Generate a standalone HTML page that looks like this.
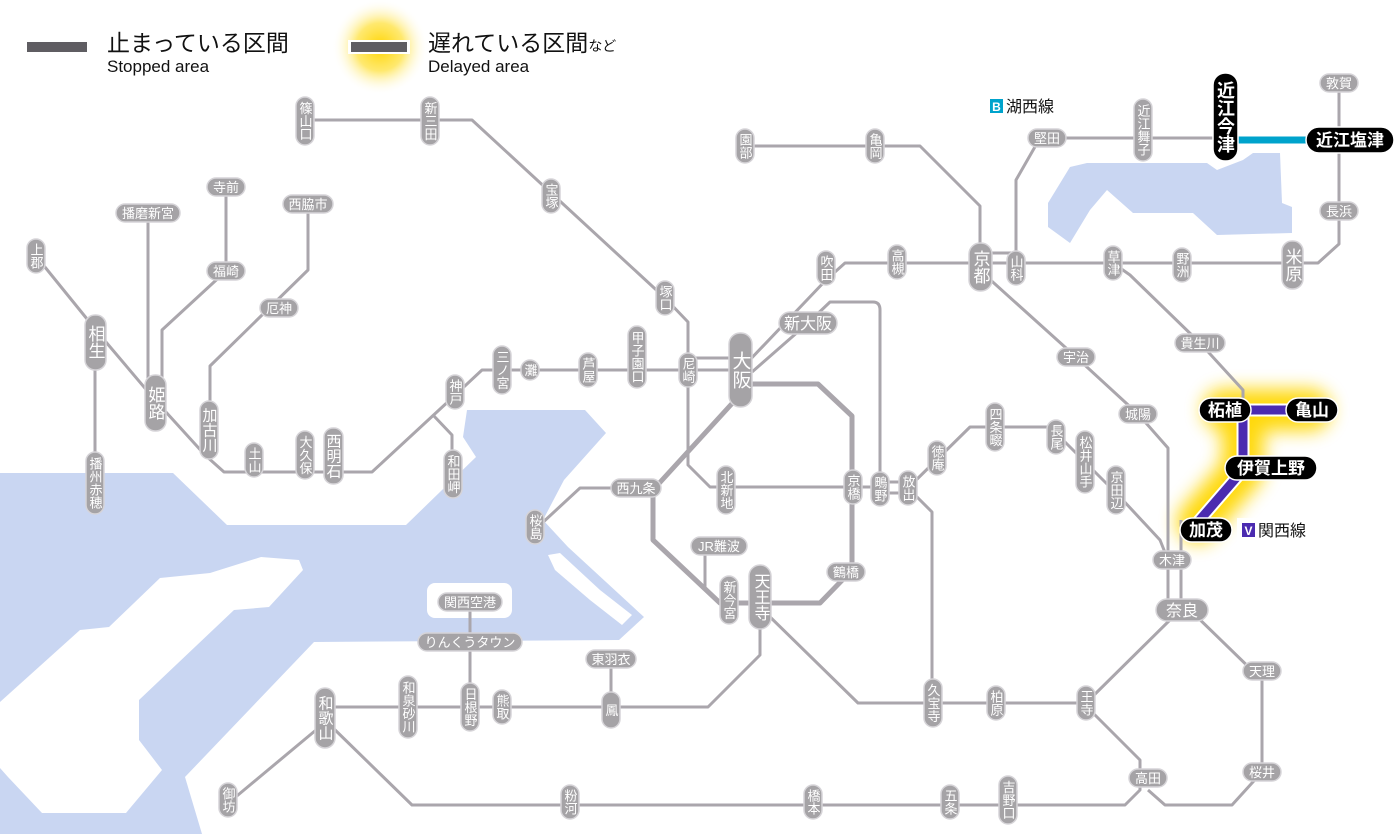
<!DOCTYPE html>
<html><head><meta charset="utf-8"><style>
html,body{margin:0;padding:0;background:#fff;}
svg{display:block;}
text{font-family:"Liberation Sans","Noto Sans CJK JP",sans-serif;}
.ln{fill:none;stroke:#aaa6ac;stroke-width:3;stroke-linejoin:round;}
.p{fill:#a5a3a6;stroke:#d6d4d8;stroke-width:1.5;}
.t{fill:#fff;font-size:13px;text-anchor:middle;}
.tb{fill:#fff;font-size:17px;text-anchor:middle;}
.v{writing-mode:vertical-rl;}
.bk{fill:#000;stroke:#fff;stroke-width:1.5;}
.wt{fill:#fff;font-size:17px;text-anchor:middle;font-weight:bold;}
</style></head><body>
<svg width="1400" height="834" viewBox="0 0 1400 834" xmlns="http://www.w3.org/2000/svg">
<defs>
<filter id="bl" x="-50%" y="-50%" width="200%" height="200%"><feGaussianBlur stdDeviation="9"/></filter>
<radialGradient id="rg"><stop offset="0" stop-color="#ffd400"/><stop offset="0.5" stop-color="#ffe34a" stop-opacity="0.8"/><stop offset="1" stop-color="#fff" stop-opacity="0"/></radialGradient>
</defs>
<!-- water -->
<polygon fill="#c9d6f2" points="0,473 173,473 227,525 406,525 476,457 463,437 467,410 585,410 606,433 564,480 543,520 568,547 644,617 619,640 314,642 185,777 202,834 0,834"/>
<polygon fill="#fff" points="261,557 299,560 303,570 269,607 234,610 139,700 139,740 162,770 126,813 42,813 8,777 0,768 0,702 80,630 109,627 160,578 210,573"/>
<rect x="427" y="583" width="85" height="35" rx="8" fill="#fff"/>
<polygon fill="#fff" points="548,555 560,553 600,590 632,615 622,625 590,600 555,570"/>
<polygon fill="#c9d6f2" points="1048,203 1070,167 1087,163 1207,163 1217,170 1243,160 1253,153 1280,153 1282,203 1292,207 1292,233 1217,235 1193,213 1133,213 1107,190 1090,210 1070,243 1048,227"/>

<!-- legend -->
<rect x="27" y="42" width="60" height="10" fill="#5f5d62"/>
<text x="107" y="51" font-size="23" fill="#111">止まっている区間</text>
<text x="107" y="72" font-size="17" fill="#111">Stopped area</text>
<circle cx="380" cy="47" r="48" fill="url(#rg)"/>
<rect x="348" y="40" width="62" height="14" fill="#fff"/>
<rect x="351" y="42" width="56" height="10" fill="#5f5d62"/>
<text x="428" y="51" font-size="23" fill="#111">遅れている区間<tspan font-size="14">など</tspan></text>
<text x="428" y="72" font-size="17" fill="#111">Delayed area</text>

<!-- delayed glow -->
<path d="M1224,410 H1310 M1243,410 V470 L1198,522" fill="none" stroke="#ffd700" stroke-width="42" stroke-linejoin="round" stroke-linecap="round" filter="url(#bl)" opacity="0.95"/>

<!-- lines -->
<path class="ln" d="M305,120 H472 L665,298 L688,322 V465 L710,487 H880"/>
<path class="ln" d="M880,482 H908 M880,493 H908"/>
<path class="ln" d="M908,488 L970,427 H1050 L1120,497 L1160,540 L1168,560"/>
<path class="ln" d="M985,275 L1076,357 L1138,414 L1168,448 V610"/>
<path class="ln" d="M1181,610 V520"/>
<path class="ln" d="M36,256 L100,335 L155,400 L205,455 L224,472 H372 L452,398 L482,370 H740"/>
<path class="ln" d="M688,358 H740"/>
<path class="ln" d="M95,342 V483"/>
<path class="ln" d="M148,213 V400"/>
<path class="ln" d="M226,187 V271 L162,330 V395"/>
<path class="ln" d="M308,204 V270 L210,366 V430"/>
<path class="ln" d="M433,415 L452,435 V474"/>
<path class="ln" d="M745,365 L826,280 L845,263 H1318 L1339,244 V83"/>
<path class="ln" d="M752,372 L808,323 L830,302 H873 Q880,302 880,310 V488"/>
<path class="ln" d="M980,253 H1016"/>
<path class="ln" d="M745,146 H920 L980,206 V263"/>
<path class="ln" d="M1016,268 V180 L1040,138 H1225"/>
<path d="M1235,140 H1315" stroke="#00a3cc" stroke-width="7" fill="none"/>
<path class="ln" d="M1113,263 L1130,275 L1200,343 L1243,390 V410"/>
<path class="ln" style="stroke-width:5" d="M738,397 L752,384 H818 L852,416 V570 L820,603 H720 L653,540 V490 Z"/>
<path class="ln" d="M652,488 H580 L540,525"/>
<path class="ln" d="M705,546 V588 L720,603"/>
<path class="ln" d="M760,593 V655 L708,707 H325"/>
<path class="ln" d="M765,612 L858,703 H1086 L1175,615"/>
<path class="ln" d="M1190,610 L1262,680 V772 L1232,805 H1165 L1148,790"/>
<path class="ln" d="M1090,710 L1140,760 V790 L1125,805 H412 L330,725"/>
<path class="ln" d="M322,725 L232,800"/>
<path class="ln" d="M470,602 V707"/>
<path class="ln" d="M611,659 V710"/>
<path class="ln" d="M915,495 L932,512 V703"/>

<!-- purple line -->
<path d="M1224,410 H1310 M1243,410 V470 L1198,522" fill="none" stroke="#fff" stroke-width="13" stroke-linejoin="miter"/>
<path d="M1224,410 H1310 M1243,410 V470 L1198,522" fill="none" stroke="#4b2bb0" stroke-width="9" stroke-linejoin="miter"/>

<!-- vertical small stations -->
<g>
<rect class="p" x="296" y="97" width="18" height="48" rx="9"/><text class="t v" x="305" y="121">篠山口</text>
<rect class="p" x="421" y="97" width="18" height="48" rx="9"/><text class="t v" x="430" y="121">新三田</text>
<rect class="p" x="542" y="179" width="18" height="34" rx="9"/><text class="t v" x="551" y="196">宝塚</text>
<rect class="p" x="656" y="281" width="18" height="34" rx="9"/><text class="t v" x="665" y="298">塚口</text>
<rect class="p" x="679" y="353" width="18" height="34" rx="9"/><text class="t v" x="688" y="370">尼崎</text>
<rect class="p" x="628" y="326" width="18" height="62" rx="9"/><text class="t v" x="637" y="357">甲子園口</text>
<rect class="p" x="579" y="353" width="18" height="34" rx="9"/><text class="t v" x="588" y="370">芦屋</text>
<rect class="p" x="521" y="360" width="18" height="20" rx="9"/><text class="t v" x="530" y="370">灘</text>
<rect class="p" x="493" y="346" width="18" height="48" rx="9"/><text class="t v" x="502" y="370">三ノ宮</text>
<rect class="p" x="446" y="375" width="18" height="34" rx="9"/><text class="t v" x="455" y="392">神戸</text>
<rect class="p" x="444" y="450" width="18" height="48" rx="9"/><text class="t v" x="453" y="474">和田岬</text>
<rect class="p" x="324" y="428" width="19" height="56" rx="9"/><text class="t v" style="font-size:15px" x="333" y="456">西明石</text>
<rect class="p" x="296" y="431" width="18" height="48" rx="9"/><text class="t v" x="305" y="455">大久保</text>
<rect class="p" x="245" y="443" width="18" height="34" rx="9"/><text class="t v" x="254" y="460">土山</text>
<rect class="p" x="27" y="239" width="18" height="34" rx="9"/><text class="t v" x="36" y="256">上郡</text>
<rect class="p" x="86" y="452" width="18" height="62" rx="9"/><text class="t v" x="95" y="483">播州赤穂</text>
<rect class="p" x="817" y="251" width="18" height="34" rx="9"/><text class="t v" x="826" y="268">吹田</text>
<rect class="p" x="888" y="245" width="18" height="34" rx="9"/><text class="t v" x="897" y="262">高槻</text>
<rect class="p" x="1007" y="251" width="18" height="34" rx="9"/><text class="t v" x="1016" y="268">山科</text>
<rect class="p" x="717" y="466" width="18" height="48" rx="9"/><text class="t v" x="726" y="490">北新地</text>
<rect class="p" x="844" y="470" width="18" height="34" rx="9"/><text class="t v" x="853" y="487">京橋</text>
<rect class="p" x="871" y="472" width="18" height="34" rx="9"/><text class="t v" x="880" y="489">鴫野</text>
<rect class="p" x="899" y="471" width="18" height="34" rx="9"/><text class="t v" x="908" y="488">放出</text>
<rect class="p" x="928" y="441" width="18" height="34" rx="9"/><text class="t v" x="937" y="458">徳庵</text>
<rect class="p" x="986" y="403" width="18" height="48" rx="9"/><text class="t v" x="995" y="427">四条畷</text>
<rect class="p" x="1047" y="420" width="18" height="34" rx="9"/><text class="t v" x="1056" y="437">長尾</text>
<rect class="p" x="1076" y="431" width="18" height="62" rx="9"/><text class="t v" x="1085" y="462">松井山手</text>
<rect class="p" x="1107" y="466" width="18" height="48" rx="9"/><text class="t v" x="1116" y="490">京田辺</text>
<rect class="p" x="526" y="510" width="18" height="34" rx="9"/><text class="t v" x="535" y="527">桜島</text>
<rect class="p" x="720" y="576" width="18" height="48" rx="9"/><text class="t v" x="729" y="600">新今宮</text>
<rect class="p" x="1077" y="686" width="18" height="34" rx="9"/><text class="t v" x="1086" y="703">王寺</text>
<rect class="p" x="987" y="686" width="18" height="34" rx="9"/><text class="t v" x="996" y="703">柏原</text>
<rect class="p" x="924" y="679" width="18" height="48" rx="9"/><text class="t v" x="933" y="703">久宝寺</text>
<rect class="p" x="999" y="776" width="18" height="48" rx="9"/><text class="t v" x="1008" y="800">吉野口</text>
<rect class="p" x="941" y="785" width="18" height="34" rx="9"/><text class="t v" x="950" y="802">五条</text>
<rect class="p" x="804" y="785" width="18" height="34" rx="9"/><text class="t v" x="813" y="802">橋本</text>
<rect class="p" x="561" y="785" width="18" height="34" rx="9"/><text class="t v" x="570" y="802">粉河</text>
<rect class="p" x="219" y="783" width="18" height="34" rx="9"/><text class="t v" x="228" y="800">御坊</text>
<rect class="p" x="399" y="676" width="18" height="62" rx="9"/><text class="t v" x="408" y="707">和泉砂川</text>
<rect class="p" x="461" y="683" width="18" height="48" rx="9"/><text class="t v" x="470" y="707">日根野</text>
<rect class="p" x="493" y="690" width="18" height="34" rx="9"/><text class="t v" x="502" y="707">熊取</text>
<rect class="p" x="602" y="692" width="18" height="36" rx="9"/><text class="t v" x="611" y="710">鳳</text>
<rect class="p" x="736" y="129" width="18" height="34" rx="9"/><text class="t v" x="745" y="146">園部</text>
<rect class="p" x="866" y="129" width="18" height="34" rx="9"/><text class="t v" x="875" y="146">亀岡</text>
<rect class="p" x="1134" y="99" width="18" height="62" rx="9"/><text class="t v" x="1143" y="130">近江舞子</text>
<rect class="p" x="1104" y="246" width="18" height="34" rx="9"/><text class="t v" x="1113" y="263">草津</text>
<rect class="p" x="1173" y="248" width="18" height="34" rx="9"/><text class="t v" x="1182" y="265">野洲</text>
<rect class="p" x="200" y="401" width="18" height="58" rx="9"/><text class="t v" style="font-size:15px" x="209" y="430">加古川</text>
</g>
<!-- big vertical -->
<g>
<rect class="p" x="729" y="333" width="23" height="74" rx="11"/><text class="tb v" style="font-size:19px" x="740" y="370">大阪</text>
<rect class="p" x="969" y="243" width="23" height="48" rx="11"/><text class="tb v" x="980" y="267">京都</text>
<rect class="p" x="145" y="375" width="21" height="56" rx="10"/><text class="tb v" x="155" y="403">姫路</text>
<rect class="p" x="85" y="315" width="21" height="55" rx="10"/><text class="tb v" x="95" y="342">相生</text>
<rect class="p" x="749" y="565" width="22" height="64" rx="11"/><text class="tb v" style="font-size:16px" x="760" y="597">天王寺</text>
<rect class="p" x="315" y="688" width="20" height="60" rx="10"/><text class="tb v" style="font-size:15px" x="325" y="718">和歌山</text>
<rect class="p" x="1282" y="241" width="21" height="48" rx="10"/><text class="tb v" x="1292" y="265">米原</text>
</g>
<!-- horizontal stations -->
<g>
<rect class="p" x="116" y="204" width="64" height="18" rx="9"/><text class="t" x="148" y="218">播磨新宮</text>
<rect class="p" x="207" y="178" width="38" height="18" rx="9"/><text class="t" x="226" y="192">寺前</text>
<rect class="p" x="207" y="262" width="38" height="18" rx="9"/><text class="t" x="226" y="276">福崎</text>
<rect class="p" x="283" y="195" width="50" height="18" rx="9"/><text class="t" x="308" y="209">西脇市</text>
<rect class="p" x="260" y="299" width="38" height="18" rx="9"/><text class="t" x="279" y="313">厄神</text>
<rect class="p" x="611" y="479" width="50" height="18" rx="9"/><text class="t" x="636" y="493">西九条</text>
<rect class="p" x="691" y="537" width="56" height="18" rx="9"/><text class="t" x="719" y="551">JR難波</text>
<rect class="p" x="827" y="563" width="38" height="18" rx="9"/><text class="t" x="846" y="577">鶴橋</text>
<rect class="p" x="1119" y="405" width="38" height="18" rx="9"/><text class="t" x="1138" y="419">城陽</text>
<rect class="p" x="1057" y="348" width="38" height="18" rx="9"/><text class="t" x="1076" y="362">宇治</text>
<rect class="p" x="1153" y="551" width="38" height="18" rx="9"/><text class="t" x="1172" y="565">木津</text>
<rect class="p" x="1243" y="662" width="38" height="18" rx="9"/><text class="t" x="1262" y="676">天理</text>
<rect class="p" x="1243" y="763" width="38" height="18" rx="9"/><text class="t" x="1262" y="777">桜井</text>
<rect class="p" x="1129" y="769" width="38" height="18" rx="9"/><text class="t" x="1148" y="783">高田</text>
<rect class="p" x="586" y="650" width="50" height="18" rx="9"/><text class="t" x="611" y="664">東羽衣</text>
<rect class="p" x="418" y="633" width="104" height="18" rx="9"/><text class="t" x="470" y="647">りんくうタウン</text>
<rect class="p" x="438" y="593" width="64" height="18" rx="9"/><text class="t" x="470" y="607">関西空港</text>
<rect class="p" x="1028" y="129" width="38" height="18" rx="9"/><text class="t" x="1047" y="143">堅田</text>
<rect class="p" x="1320" y="74" width="38" height="18" rx="9"/><text class="t" x="1339" y="88">敦賀</text>
<rect class="p" x="1320" y="202" width="38" height="18" rx="9"/><text class="t" x="1339" y="216">長浜</text>
<rect class="p" x="1175" y="334" width="50" height="18" rx="9"/><text class="t" x="1200" y="348">貴生川</text>
<rect class="p" x="779" y="312" width="58" height="22" rx="11"/><text class="tb" style="font-size:16px" x="808" y="329">新大阪</text>
<rect class="p" x="1156" y="599" width="52" height="22" rx="11"/><text class="tb" style="font-size:16px" x="1182" y="616">奈良</text>
</g>
<!-- black stations -->
<g>
<rect class="bk" x="1213" y="73" width="25" height="88" rx="12"/><text class="wt v" style="font-size:18px" x="1225" y="117">近江今津</text>
<rect class="bk" x="1306" y="127" width="88" height="26" rx="13"/><text class="wt" x="1350" y="146">近江塩津</text>
<rect class="bk" x="1199" y="398" width="52" height="24" rx="12"/><text class="wt" x="1225" y="416">柘植</text>
<rect class="bk" x="1286" y="398" width="52" height="24" rx="12"/><text class="wt" x="1312" y="416">亀山</text>
<rect class="bk" x="1225" y="456" width="92" height="24" rx="12"/><text class="wt" x="1271" y="474">伊賀上野</text>
<rect class="bk" x="1180" y="518" width="52" height="24" rx="12"/><text class="wt" x="1206" y="536">加茂</text>
</g>
<!-- line labels -->
<rect x="985" y="94" width="80" height="24" fill="#fff" opacity="0.9"/>
<rect x="990" y="99" width="13" height="14" fill="#00a3cc"/><text x="996.5" y="111" font-size="12" fill="#fff" text-anchor="middle" font-weight="bold">B</text>
<text x="1006" y="112" font-size="16" fill="#111">湖西線</text>
<rect x="1237" y="518" width="80" height="24" fill="#fff" opacity="0.9"/>
<rect x="1242" y="523" width="13" height="14" fill="#4b2bb0"/><text x="1248.5" y="535" font-size="12" fill="#fff" text-anchor="middle" font-weight="bold">V</text>
<text x="1258" y="536" font-size="16" fill="#111">関西線</text>
</svg>
</body></html>
